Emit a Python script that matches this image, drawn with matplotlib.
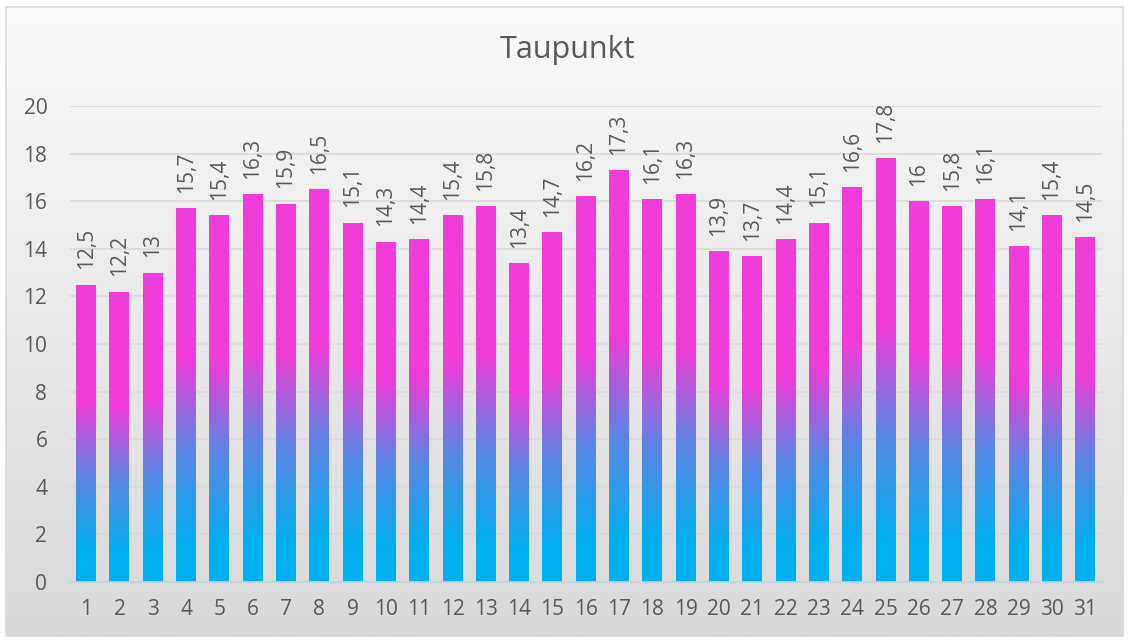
import numpy as np
import matplotlib
matplotlib.use("Agg")
import matplotlib.pyplot as plt
from matplotlib.colors import LinearSegmentedColormap
from matplotlib.patches import Rectangle

days = list(range(1, 32))
taupunkt = [12.5, 12.2, 13, 15.7, 15.4, 16.3, 15.9, 16.5, 15.1, 14.3, 14.4, 15.4, 15.8,
            13.4, 14.7, 16.2, 17.3, 16.1, 16.3, 13.9, 13.7, 14.4, 15.1, 16.6, 17.8, 16,
            15.8, 16.1, 14.1, 15.4, 14.5]
yticks = [0, 2, 4, 6, 8, 10, 12, 14, 16, 18, 20]
title = "Taupunkt"

plt.rcParams['font.family'] = ['Open Sans', 'DejaVu Sans']
txt = '#595959'

W, H = 1129, 641
fig = plt.figure(figsize=(W / 100, H / 100), dpi=100)
fig.patch.set_facecolor('white')

# background gradient panel
bg = fig.add_axes([0, 0, 1, 1], zorder=0)
bg.set_axis_off()
bgcmap = LinearSegmentedColormap.from_list('bg', ['#D9D9D9', '#FAFAFA'])
grad = np.linspace(0, 1, 256).reshape(-1, 1)
x0, y0, x1, y1 = 6 / W, 5 / H, 1123 / W, 634 / H
bg.set_xlim(0, 1); bg.set_ylim(0, 1)
bg.imshow(grad, aspect='auto', cmap=bgcmap, origin='lower', extent=[x0, x1, y0, y1])
bg.add_patch(Rectangle((x0, y0), x1 - x0, y1 - y0, fill=False, edgecolor='#D9D9D9', lw=1.2))

ax = fig.add_axes([69.5 / W, (H - 582) / H, (1102 - 69.5) / W, (582 - 106) / H], zorder=1)
ax.patch.set_alpha(0)

barcmap = LinearSegmentedColormap.from_list(
    'bar', [(0.0, '#00B0F0'), (0.1, '#00B0F0'), (0.35, '#5A86E6'), (0.6, '#F03CD8'), (1.0, '#F03CD8')])
bars = ax.bar(days, taupunkt, width=0.6, color='none', edgecolor='none', zorder=2)
for b in bars:
    bx, bw, bh = b.get_x(), b.get_width(), b.get_height()
    im = ax.imshow(grad, aspect='auto', cmap=barcmap, origin='lower',
                   extent=[bx, bx + bw, 0, bh], zorder=2, interpolation='bilinear')
    im.set_clip_path(b)

for d, v in zip(days, taupunkt):
    lab = ('%g' % v).replace('.', ',')
    ax.annotate(lab, (d, v), xytext=(0, 11), textcoords='offset points', rotation=90,
                ha='center', va='bottom', fontsize=15, color=txt, zorder=3)

ax.set_xlim(0.5, 31.5)
ax.set_ylim(0, 20)
ax.set_yticks(yticks)
ax.set_xticks(days)
ax.set_xticklabels([str(d) for d in days])
ax.grid(axis='y', color='#D9D9D9', lw=1.2, zorder=1)
ax.set_axisbelow(True)
for s in ['top', 'right', 'left']:
    ax.spines[s].set_visible(False)
ax.spines['bottom'].set_color('#BFD3E0')
ax.spines['bottom'].set_linewidth(1.2)
ax.tick_params(axis='both', length=0, labelsize=15, labelcolor=txt)
ax.tick_params(axis='y', pad=16)
ax.tick_params(axis='x', pad=12)

fig.text(568 / W, (H - 50) / H, title, ha='center', va='center', fontsize=22, color=txt)

fig.savefig('out.png', dpi=100)
